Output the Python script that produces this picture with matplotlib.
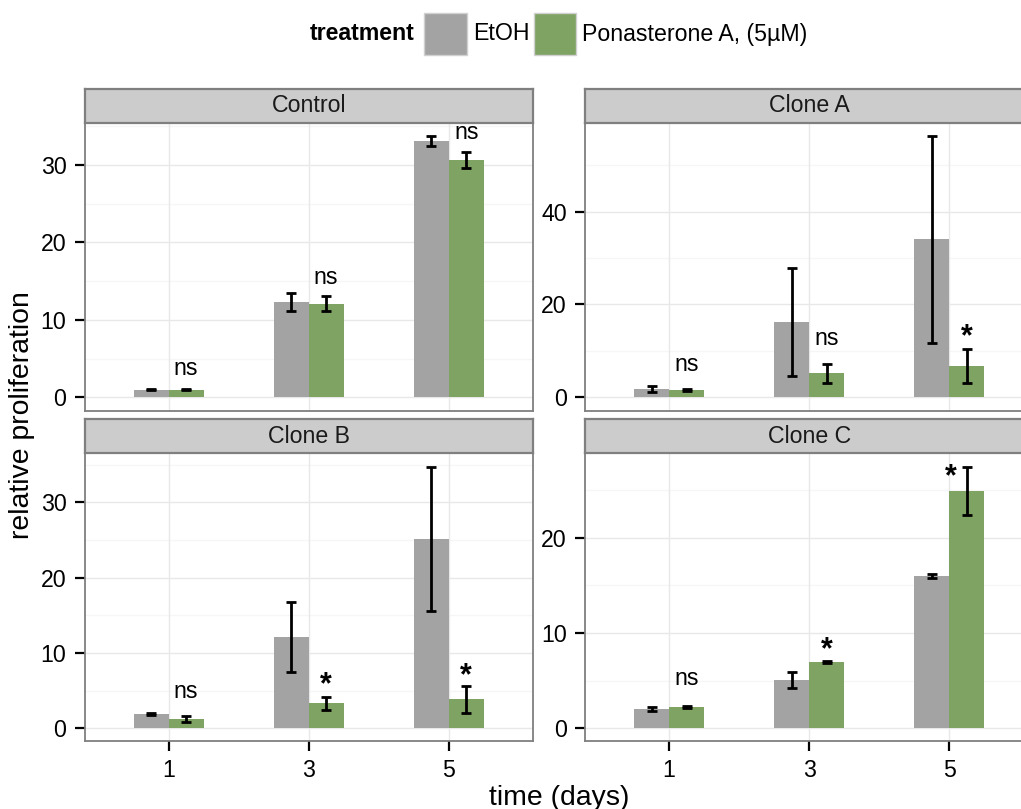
import matplotlib
matplotlib.use('Agg')
import matplotlib.pyplot as plt
from matplotlib.patches import Rectangle
import numpy as np

plt.rcParams['font.family'] = ['Liberation Sans', 'DejaVu Sans']

# ---------------- data ----------------
days = ['1', '3', '5']
panels = ['Control', 'Clone A', 'Clone B', 'Clone C']
treatments = ['EtOH', 'Ponasterone A, (5µM)']

control_etoh = [1.0, 12.3, 33.1]
control_etoh_err = [0.1, 1.12, 0.7]
control_pon = [1.0, 12.05, 30.65]
control_pon_err = [0.1, 0.97, 1.03]

cloneA_etoh = [1.8, 16.2, 34.05]
cloneA_etoh_err = [0.6, 11.6, 22.3]
cloneA_pon = [1.57, 5.17, 6.75]
cloneA_pon_err = [0.2, 2.0, 3.65]

cloneB_etoh = [1.9, 12.08, 25.13]
cloneB_etoh_err = [0.1, 4.65, 9.58]
cloneB_pon = [1.19, 3.32, 3.85]
cloneB_pon_err = [0.38, 0.89, 1.8]

cloneC_etoh = [1.99, 5.06, 15.96]
cloneC_etoh_err = [0.2, 0.85, 0.2]
cloneC_pon = [2.23, 6.92, 24.87]
cloneC_pon_err = [0.1, 0.1, 2.55]

control_sig = ['ns', 'ns', 'ns']
cloneA_sig = ['ns', 'ns', '*']
cloneB_sig = ['ns', '*', '*']
cloneC_sig = ['ns', '*', '*']

control_sig_y = [3.74, 15.53, 34.22]
cloneA_sig_y = [6.96, 12.72, 15.2]
cloneB_sig_y = [4.86, 7.08, 8.27]
cloneC_sig_y = [5.24, 9.26, 27.36]

control_yticks = [0, 10, 20, 30]
cloneA_yticks = [0, 20, 40]
cloneB_yticks = [0, 10, 20, 30]
cloneC_yticks = [0, 10, 20]

# ---------------- style ----------------
W, H = 1021, 809
GRAY = '#A3A3A3'
GREEN = '#7FA362'
BORDER = '#7F7F7F'
STRIP = '#CCCCCC'
GRID_MAJ = '#E8E8E8'
GRID_MIN = '#F6F6F6'
FS = 16.7
FS_STAR = 22
FS_TITLE = 20.4

fig = plt.figure(figsize=(W / 100, H / 100), dpi=100)


def rect(x0, y0, x1, y1):
    return [x0 / W, 1 - y1 / H, (x1 - x0) / W, (y1 - y0) / H]


col_x = [(84.5, 532.8), (585.0, 1033.3)]
row_y = [(122.7, 410.7), (452.7, 740.7)]
strip_y = [(89.3, 122.7), (419.3, 452.7)]

panel_data = {
    'Control': (control_etoh, control_etoh_err, control_pon, control_pon_err,
                control_sig, control_sig_y, control_yticks, (-1.73, 35.46), [5, 15, 25, 35]),
    'Clone A': (cloneA_etoh, cloneA_etoh_err, cloneA_pon, cloneA_pon_err,
                cloneA_sig, cloneA_sig_y, cloneA_yticks, (-2.89, 59.18), [10, 30, 50]),
    'Clone B': (cloneB_etoh, cloneB_etoh_err, cloneB_pon, cloneB_pon_err,
                cloneB_sig, cloneB_sig_y, cloneB_yticks, (-1.65, 36.58), [5, 15, 25, 35]),
    'Clone C': (cloneC_etoh, cloneC_etoh_err, cloneC_pon, cloneC_pon_err,
                cloneC_sig, cloneC_sig_y, cloneC_yticks, (-1.30, 28.89), [5, 15, 25]),
}

bw = 0.25
x = np.arange(1, len(days) + 1)

for i, name in enumerate(panels):
    r, c = divmod(i, 2)
    x0, x1 = col_x[c]
    y0, y1 = row_y[r]
    ax = fig.add_axes(rect(x0, y0, x1, y1))
    et, ete, po, poe, sig, sigy, yt, yl, ymin = panel_data[name]

    ax.set_xlim(0.4, len(days) + 0.6)
    ax.set_ylim(*yl)
    for v in ymin:
        ax.axhline(v, color=GRID_MIN, lw=0.9, zorder=0)
    for v in yt:
        ax.axhline(v, color=GRID_MAJ, lw=1.0, zorder=0.5)
    for v in x:
        ax.axvline(v, color=GRID_MAJ, lw=1.0, zorder=0.5)

    ax.bar(x - bw / 2, et, width=bw, color=GRAY, zorder=2, linewidth=0)
    ax.bar(x + bw / 2, po, width=bw, color=GREEN, zorder=2, linewidth=0)
    ax.errorbar(x - bw / 2, et, yerr=ete, fmt='none', ecolor='black',
                elinewidth=2.0, capsize=3.8, capthick=2.0, zorder=3)
    ax.errorbar(x + bw / 2, po, yerr=poe, fmt='none', ecolor='black',
                elinewidth=2.0, capsize=3.8, capthick=2.0, zorder=3)

    for j, (s, sy) in enumerate(zip(sig, sigy)):
        lx = x[j] + bw / 2
        if name == 'Clone C' and j == 2:
            lx = x[j] + 0.012
        if s == '*':
            ax.annotate(s, xy=(lx, sy), xytext=(0, -0.33 * FS_STAR),
                        textcoords='offset points', ha='center', va='center',
                        fontsize=FS_STAR, fontweight='bold', color='black', zorder=4)
        else:
            ax.annotate(s, xy=(lx, sy), ha='center', va='center',
                        fontsize=FS, color='black', zorder=4)

    ax.set_yticks(yt)
    ax.set_yticklabels([str(v) for v in yt])
    ax.set_xticks(x)
    ax.tick_params(axis='both', direction='out', length=7.5, width=1.6,
                   color='black', labelsize=FS, labelcolor='black', pad=5.5)
    if r == 0:
        ax.tick_params(axis='x', length=0, labelbottom=False)
    else:
        ax.set_xticklabels(days)
    for sp in ax.spines.values():
        sp.set_color(BORDER)
        sp.set_linewidth(1.3)
    ax.set_facecolor('white')

    # strip
    sy0, sy1 = strip_y[r]
    sax = fig.add_axes(rect(x0, sy0, x1, sy1))
    sax.set_facecolor(STRIP)
    sax.set_xticks([])
    sax.set_yticks([])
    for sp in sax.spines.values():
        sp.set_color(BORDER)
        sp.set_linewidth(1.6)
    sax.text(0.5, 0.5, name, ha='center', va='center', fontsize=FS, color='#1A1A1A',
             transform=sax.transAxes)

# axis titles
fig.text(559 / W, 1 - 805 / H, 'time (days)', ha='center', va='baseline', fontsize=FS_TITLE)
fig.text(22 / W, 1 - 415 / H, 'relative proliferation', ha='center', va='center',
         rotation=90, fontsize=FS_TITLE)

# legend
fig.text(414 / W, 1 - 34 / H, 'treatment', ha='right', va='center',
         fontsize=FS, fontweight='bold')
legend_keys = [(424.3, 467.3, GRAY, 472.7), (533.7, 576.3, GREEN, 581.7)]
for (kx0, kx1, col, tx), lab in zip(legend_keys, treatments):
    r_ = rect(kx0, 12.7, kx1, 55.0)
    fig.patches.append(Rectangle((r_[0], r_[1]), r_[2], r_[3], transform=fig.transFigure,
                                 facecolor=col, edgecolor='#D0D0D0', linewidth=1.0))
    fig.text(tx / W, 1 - 34 / H, lab, ha='left', va='center', fontsize=FS)

fig.savefig('out.png', dpi=100, facecolor='white')
